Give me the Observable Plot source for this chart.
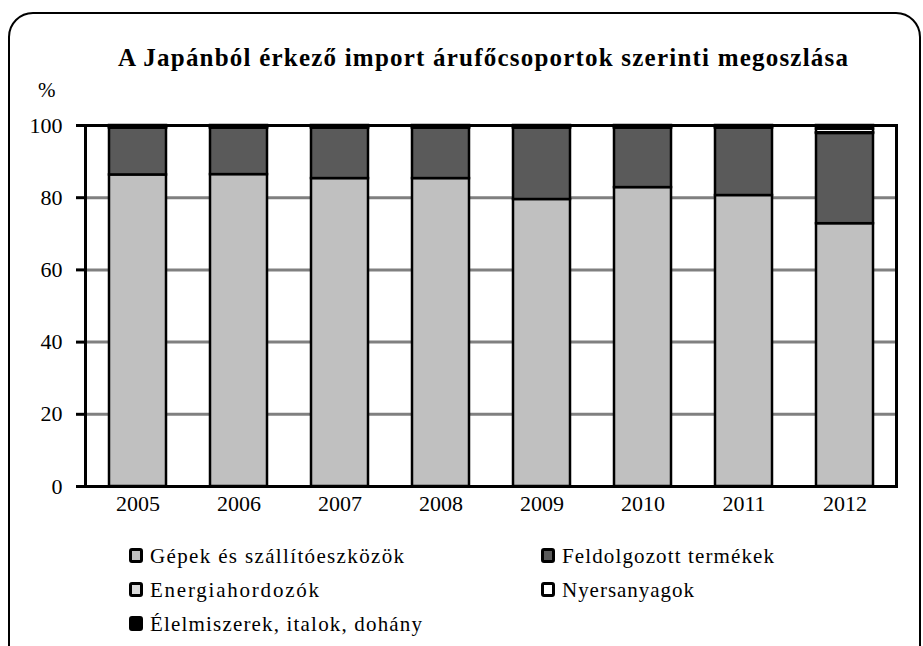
<!DOCTYPE html>
<html>
<head>
<meta charset="utf-8">
<script src="https://cdn.jsdelivr.net/npm/d3@7"></script>
<script src="https://cdn.jsdelivr.net/npm/@observablehq/plot@0.6"></script>
<style>
  html, body { margin: 0; padding: 0; background: #fff; }
  #wrap { position: relative; width: 923px; height: 646px; overflow: hidden; }
  #chart { position: absolute; left: 0; top: 90px; }
  #overlay { position: absolute; left: 0; top: 0; }
</style>
</head>
<body>
<div id="wrap">
  <div id="chart"></div>
</div>
<script>
const titleText = "A Japánból érkező import árufőcsoportok szerinti megoszlása";
const unitText = "%";
const years = ["2005", "2006", "2007", "2008", "2009", "2010", "2011", "2012"];
const seriesNames = ["Gépek és szállítóeszközök", "Feldolgozott termékek", "Energiahordozók", "Nyersanyagok", "Élelmiszerek, italok, dohány"];
const gepek        = [86.3, 86.4, 85.3, 85.3, 79.5, 82.8, 80.6, 72.8];
const feldolgozott = [13.0, 12.9, 14.0, 14.0, 19.8, 16.5, 18.7, 25.0];
const energia      = [0.1, 0.1, 0.1, 0.1, 0.1, 0.1, 0.1, 0.2];
const nyersanyag   = [0.4, 0.4, 0.4, 0.4, 0.4, 0.4, 0.4, 1.0];
const elelmiszer   = [0.2, 0.2, 0.2, 0.2, 0.2, 0.2, 0.2, 1.0];
const seriesColors = ["#c0c0c0", "#5a5a5a", "#dadada", "#ffffff", "#000000"];
const yTicks = [0, 20, 40, 60, 80, 100];
const gridValues = [20, 40, 60, 80];

const serifFont = "'Liberation Serif', 'Times New Roman', serif";

const seriesValues = [gepek, feldolgozott, energia, nyersanyag, elelmiszer];
const rows = [];
seriesNames.forEach((s, si) => {
  years.forEach((y, yi) => rows.push({year: y, series: s, value: seriesValues[si][yi]}));
});

const plot = Plot.plot({
  width: 923,
  height: 430,
  marginLeft: 85,
  marginRight: 27,
  marginTop: 35,
  marginBottom: 34,
  style: {fontFamily: serifFont, fontSize: "22px", color: "#000", background: "transparent"},
  x: {type: "band", domain: years, paddingInner: 0.44, paddingOuter: 0.2, label: null},
  y: {domain: [0, 100], label: null},
  color: {domain: seriesNames, range: seriesColors},
  marks: [
    Plot.ruleY(gridValues, {stroke: "#808080", strokeWidth: 3}),
    Plot.barY(rows, {x: "year", y: "value", fill: "series", order: seriesNames, stroke: "#000", strokeWidth: 2.5}),
    Plot.frame({stroke: "#000", strokeWidth: 3}),
    Plot.axisY({ticks: yTicks, tickSize: 9, tickPadding: 14, strokeWidth: 3, label: null, fontSize: 22}),
    Plot.axisX({tickSize: 0, tickPadding: 9, label: null, fontSize: 22})
  ]
});
document.getElementById("chart").appendChild(plot);

// Overlay: rounded border, title, unit label and legend
const svg = d3.select("#wrap").append("svg")
  .attr("id", "overlay")
  .attr("width", 923).attr("height", 646)
  .style("font-family", serifFont);

svg.append("rect")
  .attr("x", 9).attr("y", 13).attr("width", 911).attr("height", 680)
  .attr("rx", 24).attr("ry", 24)
  .attr("fill", "none").attr("stroke", "#000").attr("stroke-width", 2);

svg.append("text")
  .attr("x", 483).attr("y", 66)
  .attr("text-anchor", "middle")
  .attr("font-weight", "bold").attr("font-size", 25)
  .attr("textLength", 730).attr("lengthAdjust", "spacing")
  .text(titleText);

svg.append("text")
  .attr("x", 38).attr("y", 97)
  .attr("font-size", 21)
  .text(unitText);

// legend: two columns, row-wise like Excel
const legendPos = [[129, 563], [541, 563], [129, 597], [541, 597], [129, 631]];
const legendWidths = [254, 212, 169, 132, 272];
const lg = svg.append("g");
seriesNames.forEach((name, i) => {
  const [x, y] = legendPos[i];
  lg.append("rect")
    .attr("x", x + 1.5).attr("y", y - 13.5).attr("width", 11).attr("height", 12)
    .attr("rx", 1.5)
    .attr("fill", seriesColors[i]).attr("stroke", "#000").attr("stroke-width", 3);
  lg.append("text")
    .attr("x", x + 21).attr("y", y)
    .attr("font-size", 21)
    .attr("textLength", legendWidths[i]).attr("lengthAdjust", "spacing")
    .text(name);
});
</script>
</body>
</html>
